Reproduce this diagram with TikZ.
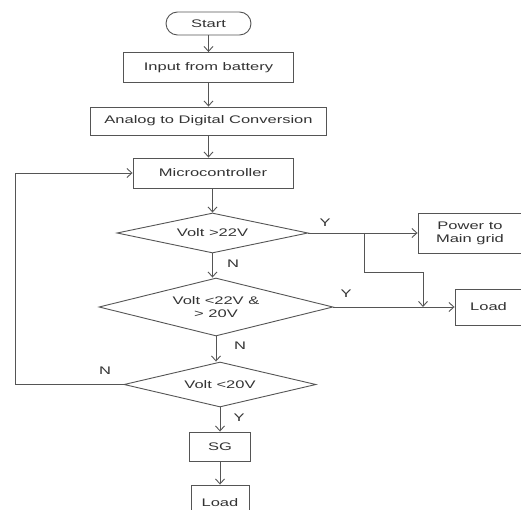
\documentclass[tikz,border=0pt]{standalone}
\usepackage{fontspec}
\setmainfont{Liberation Sans}[FakeStretch=1.5]
\usetikzlibrary{shapes.geometric,arrows.meta}
\definecolor{lc}{HTML}{555555}
\definecolor{tc}{HTML}{333333}
\begin{document}
\begin{tikzpicture}[x=1pt,y=-1pt,
  line/.style={draw=lc, line width=0.9pt},
  arr/.style={line, -{Straight Barb[length=5pt,width=9pt]}},
  txt/.style={text=tc, font=\fontsize{11}{13}\selectfont},
  box/.style={txt, draw=lc, line width=0.9pt, rectangle, inner sep=0pt, align=center},
  dia/.style={box, diamond, inner sep=0pt},
  lbl/.style={txt}]
\useasboundingbox (0,0) rectangle (521,510);
\fill[white] (0,0) rectangle (521,510);
\begin{scope}
\clip (0,0) rectangle (521,510);
% nodes
\node[box, rounded corners=11.5pt, minimum width=85pt, minimum height=23pt] (start) at (208.5,23.5) {Start};
\node[box, minimum width=170pt, minimum height=30pt] (input) at (208.5,67.5) {Input from battery};
\node[box, minimum width=236pt, minimum height=28pt] (adc) at (208.5,121) {Analog to Digital Conversion};
\node[box, minimum width=160pt, minimum height=30pt] (micro) at (213,173) {Microcontroller};
\node[dia, aspect=4.8, minimum width=191pt, minimum height=40pt] (d1) at (212.5,233) {Volt >22V};
\node[box, minimum width=104pt, minimum height=40pt] (power) at (470,233) {Power to\\Main grid};
\node[dia, aspect=4, minimum width=234pt, minimum height=58pt] (d2) at (216,307) {Volt <22V \&\\> 20V};
\node[box, minimum width=67pt, minimum height=36pt] (load1) at (488.5,307) {Load};
\node[dia, aspect=4.3, minimum width=192pt, minimum height=45pt] (d3) at (220,384.5) {Volt <20V};
\node[box, minimum width=61pt, minimum height=29pt] (sg) at (220,446.5) {SG};
\node[box, minimum width=58pt, minimum height=36pt] (load2) at (220,503) {Load};
% connectors
\draw[arr] (start.south) -- (start.south |- input.north);
\draw[arr] (input.south) -- (input.south |- adc.north);
\draw[arr] (adc.south) -- (adc.south |- micro.north);
\draw[arr] (d1.north |- micro.south) -- (d1.north);
\draw[arr] (d1.east) -- (power.west);
\draw[arr] (d1.south) -- (d1.south |- d2.north);
\coordinate (br) at (364,233);
\coordinate (bk) at (423,272);
\coordinate (bj) at (423,307);
\draw[arr] (br) |- (bk) -- (bj);
\draw[arr] (d2.east) -- (load1.west);
\draw[arr] (d2.south) -- (d2.south |- d3.north);
\coordinate (lp) at (15,384.5);
\draw[arr] (d3.west) -- (lp) |- (micro.west);
\draw[arr] (d3.south) -- (d3.south |- sg.north);
\draw[arr] (sg.south) -- (load2.north);
% labels
\node[lbl] (y1) at (325,223) {Y};
\node[lbl] (n1) at (233,264) {N};
\node[lbl] (y2) at (346,294) {Y};
\node[lbl] (n2) at (240,346) {N};
\node[lbl] (n3) at (105,371) {N};
\node[lbl] (y3) at (239,418) {Y};
\end{scope}
\end{tikzpicture}
\end{document}
